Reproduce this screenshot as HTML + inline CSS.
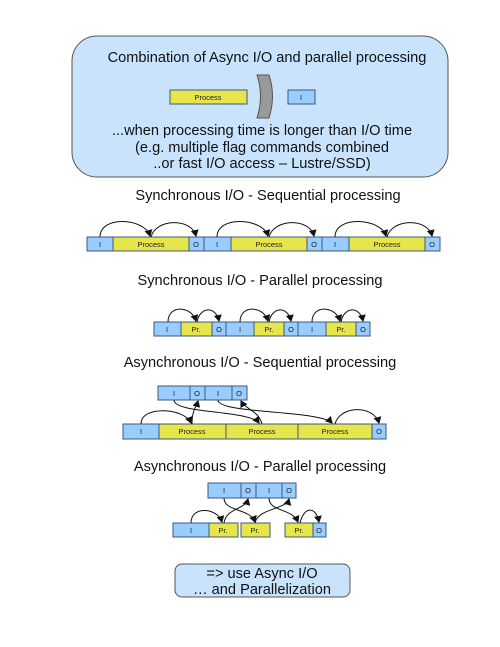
<!DOCTYPE html>
<html><head><meta charset="utf-8"><style>
html,body{margin:0;padding:0;background:#fff;}
svg{display:block;font-family:"Liberation Sans",sans-serif;}
.b{fill:#99ccff;stroke:#3c5a78;stroke-width:1}
.y{fill:#e6e64c;stroke:#3c5a78;stroke-width:1}
.t{font-size:7.5px;fill:#222;text-anchor:middle}
.h{font-size:14.6px;fill:#111;text-anchor:middle}
.a{fill:none;stroke:#111;stroke-width:1;marker-end:url(#ar)}
</style></head><body>
<svg width="500" height="647" viewBox="0 0 500 647">
<defs><marker id="ar" markerWidth="8" markerHeight="8" refX="6" refY="4" orient="auto" markerUnits="userSpaceOnUse"><path d="M0,0 L7,4 L0,8 Z" fill="#111"/></marker></defs>

<rect x="72" y="36" width="376" height="141" rx="25" fill="#c9e3fd" stroke="#555" stroke-width="1"/>
<text class="h" x="267" y="62">Combination of Async I/O and parallel processing</text>
<rect class="y" x="170" y="90" width="77" height="14"/><text class="t" x="208" y="100">Process</text>
<path d="M257,75 L269,75 Q276,96 269,118 L257,118 Q264,96 257,75 Z" fill="#999" stroke="#555"/>
<rect class="b" x="288" y="90" width="27" height="14"/><text class="t" x="301" y="100">I</text>
<text class="h" x="262" y="135">...when processing time is longer than I/O time</text>
<text class="h" x="262" y="152">(e.g. multiple flag commands combined</text>
<text class="h" x="262" y="168">..or fast I/O access – Lustre/SSD)</text>

<text class="h" x="268" y="200">Synchronous I/O - Sequential processing</text>
<g>
<rect class="b" x="87" y="237" width="26" height="14"/><text class="t" x="100" y="247">I</text>
<rect class="y" x="113" y="237" width="76" height="14"/><text class="t" x="151" y="247">Process</text>
<rect class="b" x="189" y="237" width="15" height="14"/><text class="t" x="196" y="247">O</text>
<path class="a" d="M100,237 C100,215 145,218 150,236"/><path class="a" d="M151,237 C156,218 192,218 196,236"/>
<rect class="b" x="204" y="237" width="27" height="14"/><text class="t" x="217" y="247">I</text>
<rect class="y" x="231" y="237" width="76" height="14"/><text class="t" x="269" y="247">Process</text>
<rect class="b" x="307" y="237" width="15" height="14"/><text class="t" x="314" y="247">O</text>
<path class="a" d="M217,237 C217,215 263,218 268,236"/><path class="a" d="M269,237 C274,218 310,218 314,236"/>
<rect class="b" x="322" y="237" width="27" height="14"/><text class="t" x="335" y="247">I</text>
<rect class="y" x="349" y="237" width="76" height="14"/><text class="t" x="387" y="247">Process</text>
<rect class="b" x="425" y="237" width="15" height="14"/><text class="t" x="432" y="247">O</text>
<path class="a" d="M335,237 C335,215 381,218 386,236"/><path class="a" d="M387,237 C392,218 428,218 432,236"/>
</g>

<text class="h" x="260" y="285">Synchronous I/O - Parallel processing</text>
<g>
<rect class="b" x="154" y="322" width="27" height="14"/><text class="t" x="167" y="332">I</text>
<rect class="y" x="181" y="322" width="31" height="14"/><text class="t" x="196" y="332">Pr.</text>
<rect class="b" x="212" y="322" width="14" height="14"/><text class="t" x="219" y="332">O</text>
<path class="a" d="M168,322 C168,304 192,306 196,321"/><path class="a" d="M197,322 C200,306 216,306 219,321"/>
<rect class="b" x="226" y="322" width="28" height="14"/><text class="t" x="240" y="332">I</text>
<rect class="y" x="254" y="322" width="30" height="14"/><text class="t" x="269" y="332">Pr.</text>
<rect class="b" x="284" y="322" width="14" height="14"/><text class="t" x="291" y="332">O</text>
<path class="a" d="M240,322 C240,304 264,306 268,321"/><path class="a" d="M269,322 C272,306 288,306 291,321"/>
<rect class="b" x="298" y="322" width="28" height="14"/><text class="t" x="312" y="332">I</text>
<rect class="y" x="326" y="322" width="30" height="14"/><text class="t" x="341" y="332">Pr.</text>
<rect class="b" x="356" y="322" width="14" height="14"/><text class="t" x="363" y="332">O</text>
<path class="a" d="M312,322 C312,304 336,306 340,321"/><path class="a" d="M341,322 C344,306 360,306 363,321"/>
</g>

<text class="h" x="260" y="367">Asynchronous I/O - Sequential processing</text>
<g>
<rect class="b" x="158" y="386" width="32" height="14"/><text class="t" x="174" y="396">I</text>
<rect class="b" x="190" y="386" width="15" height="14"/><text class="t" x="197" y="396">O</text>
<rect class="b" x="205" y="386" width="27" height="14"/><text class="t" x="218" y="396">I</text>
<rect class="b" x="232" y="386" width="15" height="14"/><text class="t" x="239" y="396">O</text>
<rect class="b" x="123" y="424" width="36" height="15"/><text class="t" x="141" y="434">I</text>
<rect class="y" x="159" y="424" width="67" height="15"/><text class="t" x="192" y="434">Process</text>
<rect class="y" x="226" y="424" width="72" height="15"/><text class="t" x="262" y="434">Process</text>
<rect class="y" x="298" y="424" width="74" height="15"/><text class="t" x="335" y="434">Process</text>
<rect class="b" x="372" y="424" width="14" height="15"/><text class="t" x="379" y="434">O</text>
<path class="a" d="M141,424 C141,405 185,408 191,423"/>
<path class="a" d="M192,424 C192,410 196,408 198,401"/>
<path class="a" d="M174,400 C174,414 250,410 259,423"/>
<path class="a" d="M262,424 C258,410 246,410 241,401"/>
<path class="a" d="M218,400 C218,414 320,410 332,423"/>
<path class="a" d="M335,424 C340,405 374,405 379,423"/>
</g>

<text class="h" x="260" y="471">Asynchronous I/O - Parallel processing</text>
<g>
<rect class="b" x="208" y="483" width="33" height="15"/><text class="t" x="224" y="493">I</text>
<rect class="b" x="241" y="483" width="15" height="15"/><text class="t" x="248" y="493">O</text>
<rect class="b" x="256" y="483" width="26" height="15"/><text class="t" x="269" y="493">I</text>
<rect class="b" x="282" y="483" width="14" height="15"/><text class="t" x="289" y="493">O</text>
<rect class="b" x="173" y="523" width="36" height="14"/><text class="t" x="191" y="533">I</text>
<rect class="y" x="209" y="523" width="29" height="14"/><text class="t" x="223" y="533">Pr.</text>
<rect class="y" x="241" y="523" width="29" height="14"/><text class="t" x="255" y="533">Pr.</text>
<rect class="y" x="285" y="523" width="28" height="14"/><text class="t" x="299" y="533">Pr.</text>
<rect class="b" x="313" y="523" width="13" height="14"/><text class="t" x="319" y="533">O</text>
<path class="a" d="M191,523 C191,505 218,508 222,522"/>
<path class="a" d="M224,523 C226,508 245,510 248,499"/>
<path class="a" d="M224,498 C224,512 250,508 255,522"/>
<path class="a" d="M255,523 C258,508 286,510 289,499"/>
<path class="a" d="M269,498 C269,512 292,508 298,522"/>
<path class="a" d="M300,523 C304,506 316,506 319,522"/>
</g>

<rect x="175" y="564" width="175" height="33" rx="7" fill="#c9e3fd" stroke="#555"/>
<text class="h" x="262" y="578">=&gt; use Async I/O</text>
<text class="h" x="262" y="594">… and Parallelization</text>
</svg>
</body></html>
